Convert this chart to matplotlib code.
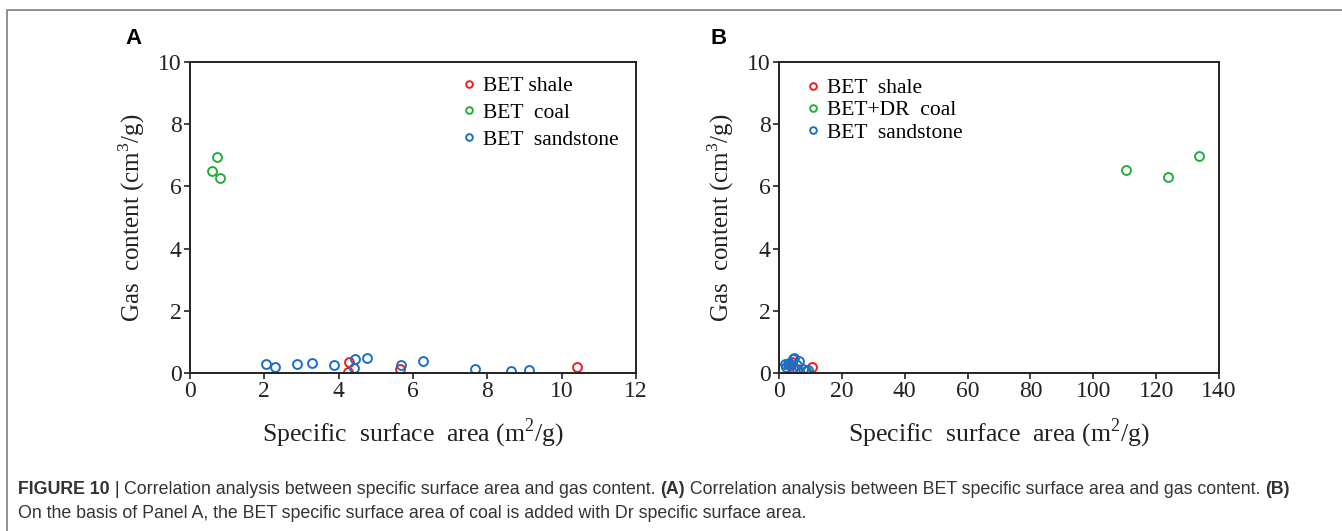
import matplotlib
matplotlib.use('Agg')
import matplotlib.pyplot as plt
from matplotlib.lines import Line2D

# Dados
shale_x = [4.29, 4.24, 5.64, 10.40]
shale_y = [0.34, 0.04, 0.12, 0.18]
coal_x = [0.60, 0.72, 0.81]
coal_y = [6.50, 6.93, 6.28]
coal_dr_x = [110.4, 123.8, 133.6]
coal_dr_y = [6.53, 6.30, 6.98]
sand_x = [2.05, 2.30, 2.89, 3.28, 3.87, 4.43, 4.40, 4.77, 5.69, 6.28, 7.68, 8.63, 9.12]
sand_y = [0.29, 0.18, 0.29, 0.33, 0.26, 0.46, 0.16, 0.49, 0.25, 0.40, 0.14, 0.07, 0.09]

ticks_a = [0, 2, 4, 6, 8, 10, 12]
ticks_b = [0, 20, 40, 60, 80, 100, 120, 140]
ticks_y = [0, 2, 4, 6, 8, 10]

RED = '#ee1c25'
GREEN = '#1fae3a'
BLUE = '#1a6fc4'
SERIF = ['Liberation Serif', 'DejaVu Serif']

plt.rcParams['font.family'] = SERIF
plt.rcParams['mathtext.fontset'] = 'custom'
plt.rcParams['mathtext.rm'] = 'Liberation Serif'

fig = plt.figure(figsize=(13.42, 5.31), dpi=100)
W, H = 1342.0, 531.0

def px_axes(l, r, t, b):
    return fig.add_axes([l / W, 1 - b / H, (r - l) / W, (b - t) / H])

def pontos(ax, x, y, c, lab):
    ax.plot(x, y, 'o', ls='none', mfc='none', mec=c, ms=6.4, mew=1.4, label=lab)

def estilo(ax, xmax, xt):
    ax.set_xlim(0, xmax)
    ax.set_ylim(0, 10)
    ax.set_xticks(xt)
    ax.set_yticks(ticks_y)
    for s in ax.spines.values():
        s.set_linewidth(1.4)
        s.set_color('#222222')
    ax.tick_params(direction='out', length=4, width=1.2, labelsize=17, pad=2, colors='#222222')
    ax.set_xlabel('Specific  surface  area (m$^2$/g)', fontsize=18.5, labelpad=10, color='#222222')
    ax.set_ylabel('Gas  content (cm$^3$/g)', fontsize=18, labelpad=8, color='#222222')

# Painel A
axA = px_axes(190, 636, 62, 373)
pontos(axA, shale_x, shale_y, RED, 'BET shale')
pontos(axA, coal_x, coal_y, GREEN, 'BET  coal')
pontos(axA, sand_x, sand_y, BLUE, 'BET  sandstone')
estilo(axA, 12, ticks_a)
axA.legend(loc='upper left', bbox_to_anchor=((461 - 190) / 446, (373 - 76) / 311),
           frameon=False, borderpad=0, borderaxespad=0, handlelength=0.75, handletextpad=0.25,
           labelspacing=0.32, markerscale=0.75, prop={'family': SERIF, 'size': 15.5})

# Painel B
axB = px_axes(779, 1219, 62, 373)
pontos(axB, shale_x, shale_y, RED, 'BET  shale')
pontos(axB, coal_dr_x, coal_dr_y, GREEN, 'BET+DR  coal')
pontos(axB, sand_x, sand_y, BLUE, 'BET  sandstone')
estilo(axB, 140, ticks_b)
axB.legend(loc='upper left', bbox_to_anchor=((805 - 779) / 440, (373 - 78) / 311),
           frameon=False, borderpad=0, borderaxespad=0, handlelength=0.75, handletextpad=0.25,
           labelspacing=0.1, markerscale=0.75, prop={'family': SERIF, 'size': 15.5})

fig.text(125 / W, 1 - 38 / H, 'A', fontsize=16, fontweight='bold', family='Liberation Sans',
         ha='left', va='center')
fig.text(710 / W, 1 - 38 / H, 'B', fontsize=16, fontweight='bold', family='Liberation Sans',
         ha='left', va='center')

# moldura cinza
fig.add_artist(Line2D([7 / W, 7 / W, 1.0], [0.0, 1 - 10 / H, 1 - 10 / H],
                      transform=fig.transFigure, color='#888888', lw=1.3))

# legenda da figura (partes em negrito)
CAP = ['Liberation Sans Narrow', 'Liberation Sans']
linha1 = [('FIGURE 10', 'bold'), (' | ', 'normal'),
          ('Correlation analysis between specific surface area and gas content. ', 'normal'),
          ('(A)', 'bold'),
          (' Correlation analysis between BET specific surface area and gas content. ', 'normal'),
          ('(B)', 'bold')]
linha2 = [('On the basis of Panel A, the BET specific surface area of coal is added with Dr specific surface area.', 'normal')]

fig.canvas.draw()
r = fig.canvas.get_renderer()
for linha, ypx in [(linha1, 490), (linha2, 514)]:
    x = 18.0
    for txt, wt in linha:
        t = fig.text(x / W, 1 - ypx / H, txt, fontsize=12.8, fontweight=wt, family=CAP,
                     color='#333333', ha='left', va='center')
        bb = t.get_window_extent(renderer=r)
        x += bb.width

fig.savefig('out.png', dpi=100)
